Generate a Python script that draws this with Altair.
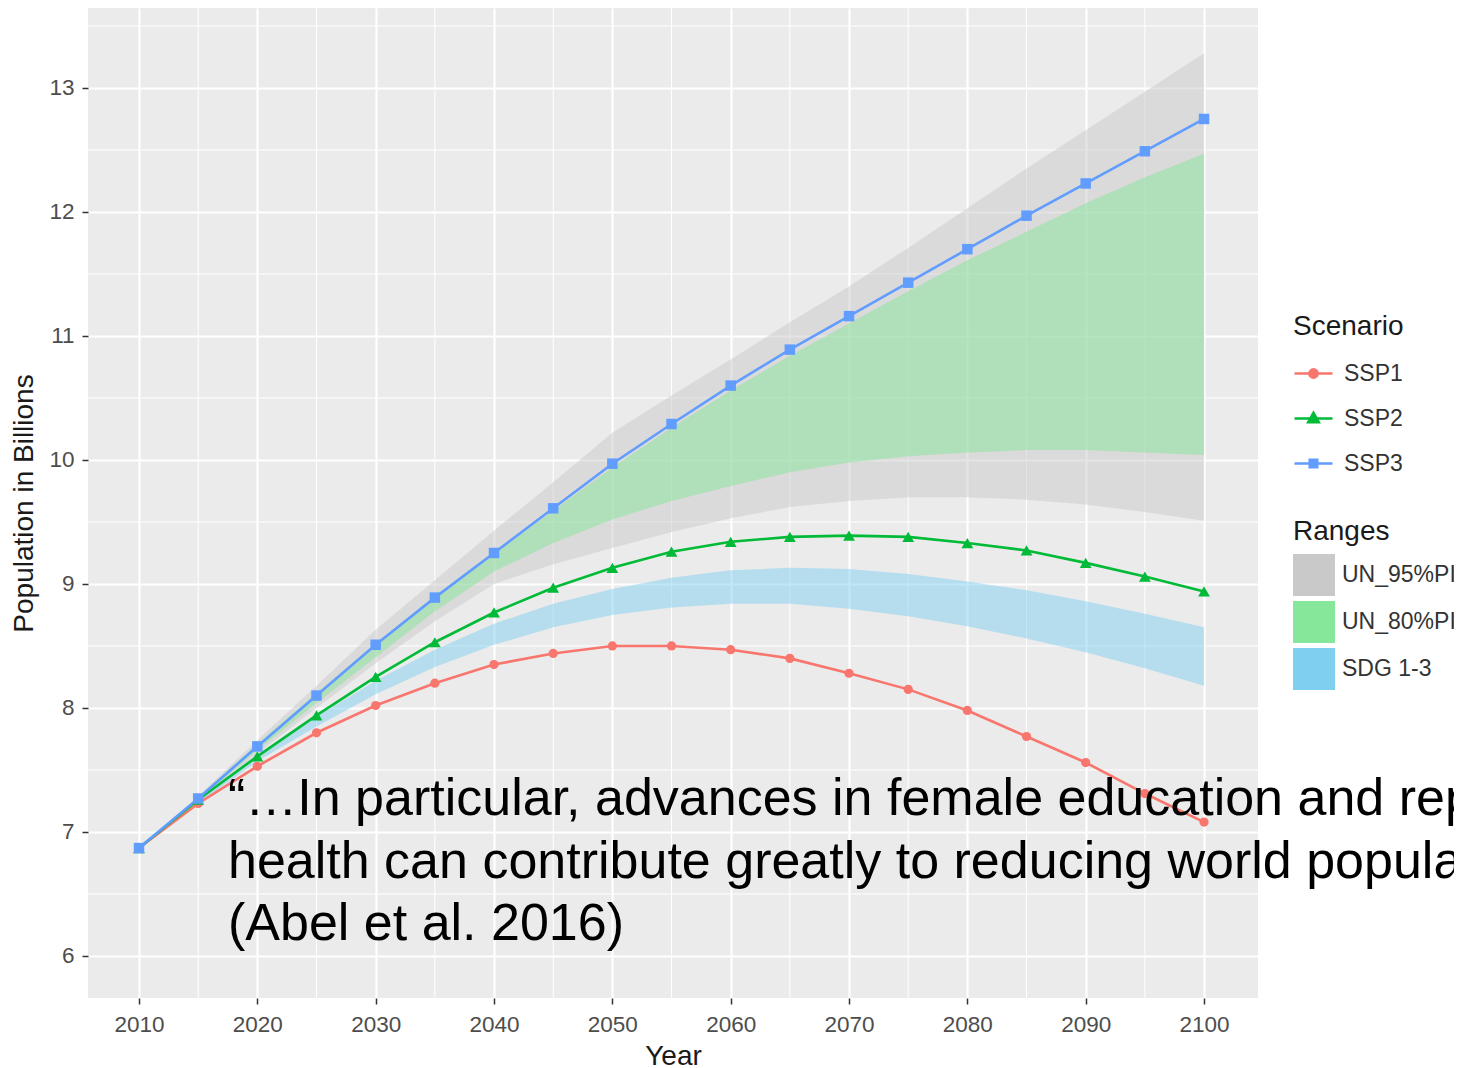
import altair as alt
import pandas as pd

# ---------------- data ----------------
years = list(range(2010, 2101, 5))
scenarios = ["SSP1", "SSP2", "SSP3"]
ssp1 = [6.87, 7.23, 7.53, 7.80, 8.02, 8.20, 8.35, 8.44, 8.50, 8.50, 8.47, 8.40, 8.28, 8.15, 7.98, 7.77, 7.56, 7.31, 7.08]
ssp2 = [6.87, 7.26, 7.61, 7.94, 8.25, 8.53, 8.77, 8.97, 9.13, 9.26, 9.34, 9.38, 9.39, 9.38, 9.33, 9.27, 9.17, 9.06, 8.94]
ssp3 = [6.87, 7.27, 7.69, 8.10, 8.51, 8.89, 9.25, 9.61, 9.97, 10.29, 10.60, 10.89, 11.16, 11.43, 11.70, 11.97, 12.23, 12.49, 12.75]

band_years = list(range(2015, 2101, 5))
ranges = ["UN_95%PI", "UN_80%PI", "SDG 1-3"]
un95_lo = [7.24, 7.63, 8.00, 8.36, 8.70, 9.00, 9.16, 9.29, 9.42, 9.53, 9.62, 9.67, 9.70, 9.70, 9.68, 9.64, 9.58, 9.51]
un95_hi = [7.29, 7.74, 8.18, 8.63, 9.03, 9.43, 9.82, 10.22, 10.52, 10.81, 11.11, 11.40, 11.71, 12.03, 12.35, 12.66, 12.97, 13.28]
un80_lo = [7.25, 7.66, 8.04, 8.41, 8.78, 9.10, 9.33, 9.52, 9.67, 9.79, 9.90, 9.98, 10.03, 10.06, 10.08, 10.08, 10.06, 10.04]
un80_hi = [7.28, 7.71, 8.12, 8.52, 8.89, 9.24, 9.59, 9.94, 10.26, 10.56, 10.84, 11.10, 11.36, 11.61, 11.84, 12.07, 12.28, 12.47]
sdg_lo = [7.23, 7.57, 7.85, 8.11, 8.33, 8.51, 8.65, 8.75, 8.81, 8.84, 8.84, 8.80, 8.74, 8.66, 8.56, 8.45, 8.32, 8.18]
sdg_hi = [7.25, 7.62, 7.93, 8.22, 8.47, 8.68, 8.84, 8.96, 9.05, 9.11, 9.13, 9.12, 9.08, 9.02, 8.95, 8.86, 8.76, 8.65]

x_major = list(range(2010, 2101, 10))
y_major = [6, 7, 8, 9, 10, 11, 12, 13]
x_minor = list(range(2015, 2100, 10))
y_minor = [6.5, 7.5, 8.5, 9.5, 10.5, 11.5, 12.5, 13.5]

quote_lines = [
    "\u201c\u2026In particular, advances in female education and reproductive",
    "health can contribute greatly to reducing world population growth.\u201d",
    "(Abel et al. 2016)",
]
quote_year = [2017.52, 2017.52, 2017.52]
quote_pop = [7.137, 6.629, 6.129]

line_colors = ["#F8766D", "#00BA38", "#619CFF"]
band_colors = ["#c9c9c9", "#86e69a", "#7fcff1"]
point_shapes = ["circle", "triangle-up", "square"]
point_sizes = [85, 140, 110]
legend_paths = [
    "M-1,0L1,0M0.22,0A0.22,0.22 0 1,1 -0.22,0A0.22,0.22 0 1,1 0.22,0Z",
    "M-1,0L1,0M0,-0.3L0.28,0.2L-0.28,0.2Z",
    "M-1,0L1,0M-0.2,-0.2L0.2,-0.2L0.2,0.2L-0.2,0.2Z",
]

# ---------------- tables ----------------
line_df = pd.DataFrame({
    "Year": years * 3,
    "Pop": ssp1 + ssp2 + ssp3,
    "Scenario": [s for s in scenarios for _ in years],
})
band_df = pd.DataFrame({
    "Year": band_years * 3,
    "lo": un95_lo + un80_lo + sdg_lo,
    "hi": un95_hi + un80_hi + sdg_hi,
    "Range": [r for r in ranges for _ in band_years],
})
leg_df = pd.DataFrame({"Year": [years[0]] * 3, "Pop": [ssp3[0]] * 3, "Scenario": scenarios})
quote_df = pd.DataFrame({"Year": quote_year, "Pop": quote_pop, "line": quote_lines})
xminor_df = pd.DataFrame({"v": x_minor})
yminor_df = pd.DataFrame({"v": y_minor})

FONT = "Liberation Sans"
xscale = alt.Scale(domain=[2005.69, 2104.56], nice=False, zero=False)
yscale = alt.Scale(domain=[5.661, 13.645], nice=False, zero=False)

xaxis = alt.Axis(values=x_major, title="Year", format="d", titleFontSize=28, titleFontWeight="normal",
                 titleColor="#1a1a1a", labelFontSize=22.5, labelColor="#4d4d4d", tickColor="#333333",
                 tickSize=6, tickWidth=1.5, labelPadding=9, titlePadding=7, domain=False,
                 gridColor="white", gridWidth=2.2, labelFlush=False)
yaxis = alt.Axis(values=y_major, title="Population in Billions", format="d", titleFontSize=28,
                 titleFontWeight="normal", titleColor="#1a1a1a", labelFontSize=22.5, labelColor="#4d4d4d",
                 tickColor="#333333", tickSize=6, tickWidth=1.5, labelPadding=8, titlePadding=10,
                 domain=False, gridColor="white", gridWidth=2.2)


def X(field):
    return alt.X(field, type="quantitative", scale=xscale, axis=xaxis)


def Y(field):
    return alt.Y(field, type="quantitative", scale=yscale, axis=yaxis)


ranges_legend = alt.Legend(title="Ranges", orient="none", legendX=1205, legendY=510, direction="vertical",
                           symbolType="square", symbolSize=1764, symbolOpacity=1, symbolStrokeWidth=0,
                           titleFontSize=28, titleFontWeight="normal", titleColor="#1a1a1a", titlePadding=8,
                           labelFontSize=23, labelColor="#333333", labelOffset=7, rowPadding=5, padding=0)
scen_legend = alt.Legend(title="Scenario", orient="none", legendX=1205, legendY=305, direction="vertical",
                         symbolSize=1444, symbolStrokeWidth=2.5, symbolOpacity=1,
                         titleFontSize=28, titleFontWeight="normal", titleColor="#1a1a1a", titlePadding=12,
                         labelFontSize=23, labelColor="#333333", labelOffset=10, rowPadding=12, padding=0)

color_scale = alt.Scale(domain=ranges, range=band_colors)
stroke_scale = alt.Scale(domain=scenarios, range=line_colors)
fill_scale = alt.Scale(domain=scenarios, range=line_colors)
shape_scale = alt.Scale(domain=scenarios, range=legend_paths)

minor_x = alt.Chart(xminor_df).mark_rule(color="white", strokeWidth=1).encode(x=X("v"))
minor_y = alt.Chart(yminor_df).mark_rule(color="white", strokeWidth=1).encode(y=Y("v"))

bands = [
    alt.Chart(band_df).transform_filter(alt.datum.Range == r).mark_area(opacity=0.5).encode(
        x=X("Year"), y=Y("lo"), y2="hi",
        color=alt.Color("Range:N", scale=color_scale, legend=ranges_legend),
    )
    for r in ranges
]

lines = alt.Chart(line_df).mark_line(strokeWidth=2.6).encode(
    x=X("Year"), y=Y("Pop"),
    stroke=alt.Stroke("Scenario:N", scale=stroke_scale, legend=None),
)

legend_layer = alt.Chart(leg_df).mark_point(filled=True, size=1, strokeWidth=0.5).encode(
    x=X("Year"), y=Y("Pop"),
    shape=alt.Shape("Scenario:N", scale=shape_scale, legend=scen_legend),
    fill=alt.Fill("Scenario:N", scale=fill_scale, legend=scen_legend),
    stroke=alt.Stroke("Scenario:N", scale=stroke_scale, legend=scen_legend),
)

points = [
    alt.Chart(line_df).transform_filter(alt.datum.Scenario == sc).mark_point(
        shape=shp, filled=True, size=sz, opacity=1).encode(
        x=X("Year"), y=Y("Pop"),
        fill=alt.Fill("Scenario:N", scale=fill_scale, legend=None),
    )
    for sc, shp, sz in zip(scenarios, point_shapes, point_sizes)
]

quote = alt.Chart(quote_df).mark_text(align="left", baseline="alphabetic", font=FONT, fontSize=52,
                                      color="black").encode(
    x=X("Year"), y=Y("Pop"), text="line:N")

chart = alt.layer(minor_x, minor_y, *bands, lines, legend_layer, *points, quote).resolve_scale(
    fill="independent", stroke="independent", shape="independent"
).properties(
    width=1170, height=990,
    autosize=alt.AutoSizeParams(type="none"),
    padding={"left": 80, "top": 0, "right": 196, "bottom": 70},
).configure(font=FONT, background="white").configure_view(fill="#ebebeb", stroke=None)

chart.save("out.html", embed_options={"renderer": "svg", "actions": False})
